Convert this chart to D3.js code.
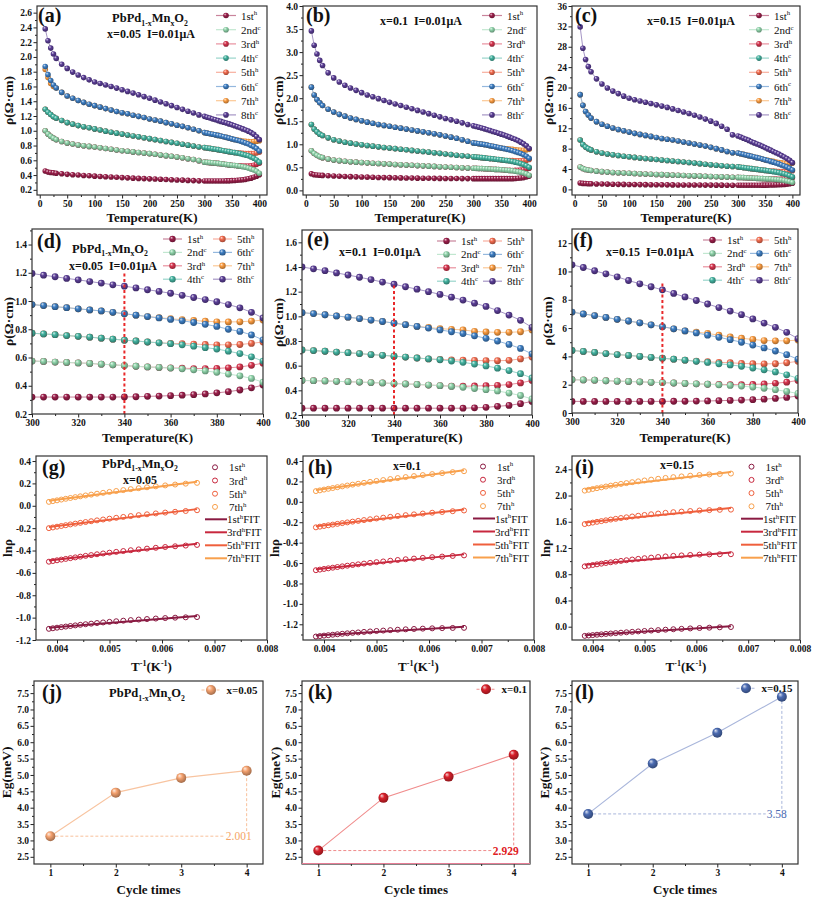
<!DOCTYPE html>
<html><head><meta charset="utf-8">
<script src="https://cdn.jsdelivr.net/npm/d3@7"></script>
<style>body{margin:0;background:#fff}svg{display:block}</style>
</head><body><svg id="c" width="813" height="899"></svg>
<script>
// ---------------- DATA ----------------
const tempLowK = [10,15,20,25,30,40,50,60,70,80,90,100,110,120,130,140,150,160,170,180,190,200,210,220,230,240,250,260,270,280,290];
const tempHighK = [300,305,310,315,320,325,330,335,340,345,350,355,360,365,370,375,380,385,390,395,400];
const seriesNames = ['1st','2nd','3rd','4th','5th','6th','7th','8th'];
const seriesSup = ['h','c','h','c','h','c','h','c'];
const tempTicks = [0,50,100,150,200,250,300,350,400];
const tempZoomTicks = [300,320,340,360,380,400];

// x = 0.05 (panels a, d)
const x005_1st_low = [0.455,0.44,0.435,0.43,0.425,0.418,0.41,0.405,0.4,0.395,0.39,0.385,0.38,0.377,0.373,0.37,0.366,0.362,0.358,0.355,0.352,0.349,0.346,0.343,0.34,0.337,0.334,0.331,0.328,0.325,0.322];
const x005_2nd_low = [1.0,0.955,0.925,0.9,0.88,0.855,0.835,0.82,0.807,0.797,0.788,0.78,0.77,0.76,0.75,0.74,0.73,0.722,0.714,0.706,0.698,0.69,0.681,0.672,0.663,0.654,0.645,0.634,0.622,0.61,0.595];
const x005_4th_low = [1.29,1.25,1.22,1.19,1.17,1.14,1.11,1.09,1.07,1.055,1.04,1.025,1.01,0.995,0.98,0.968,0.955,0.942,0.93,0.918,0.905,0.893,0.88,0.868,0.855,0.843,0.83,0.818,0.805,0.793,0.78];
const x005_6th_low = [1.87,1.76,1.68,1.62,1.58,1.52,1.47,1.44,1.41,1.385,1.36,1.34,1.32,1.30,1.28,1.26,1.245,1.23,1.21,1.195,1.18,1.16,1.145,1.13,1.11,1.095,1.075,1.06,1.04,1.02,1.0];
const x005_7th_low = [1.83,1.72,1.64,1.6,1.58,1.52,1.47,1.44,1.41,1.385,1.36,1.34,1.32,1.30,1.28,1.26,1.245,1.23,1.21,1.195,1.18,1.16,1.145,1.13,1.11,1.095,1.075,1.06,1.04,1.02,1.0];
const x005_8th_low = [2.38,2.22,2.12,2.04,1.98,1.9,1.845,1.795,1.755,1.72,1.69,1.66,1.64,1.62,1.60,1.578,1.555,1.533,1.51,1.487,1.463,1.44,1.415,1.39,1.365,1.34,1.315,1.29,1.265,1.24,1.215];
const x005_1st_high = [0.32,0.32,0.32,0.32,0.32,0.32,0.32,0.32,0.321,0.322,0.325,0.327,0.33,0.333,0.337,0.342,0.35,0.358,0.37,0.385,0.405];
const x005_2nd_high = [0.575,0.572,0.568,0.565,0.562,0.558,0.553,0.548,0.543,0.538,0.533,0.53,0.525,0.52,0.513,0.505,0.495,0.483,0.47,0.452,0.425];
const x005_3rd_high = [0.575,0.572,0.568,0.565,0.562,0.558,0.553,0.548,0.543,0.538,0.533,0.53,0.526,0.524,0.522,0.522,0.523,0.527,0.533,0.545,0.56];
const x005_4th_high = [0.772,0.767,0.762,0.755,0.75,0.744,0.737,0.73,0.723,0.717,0.71,0.704,0.698,0.69,0.68,0.67,0.66,0.645,0.628,0.605,0.575];
const x005_5th_high = [0.772,0.767,0.762,0.755,0.75,0.744,0.737,0.73,0.723,0.717,0.71,0.704,0.70,0.698,0.695,0.692,0.69,0.69,0.692,0.70,0.71];
const x005_6th_high = [0.975,0.968,0.96,0.953,0.945,0.937,0.93,0.92,0.91,0.9,0.89,0.88,0.87,0.86,0.848,0.835,0.82,0.80,0.785,0.76,0.725];
const x005_7th_high = [0.975,0.968,0.96,0.953,0.945,0.937,0.93,0.92,0.91,0.9,0.89,0.882,0.875,0.868,0.862,0.857,0.853,0.852,0.853,0.858,0.865];
const x005_8th_high = [1.195,1.183,1.172,1.16,1.15,1.138,1.127,1.115,1.105,1.093,1.08,1.068,1.055,1.04,1.025,1.01,0.995,0.975,0.952,0.92,0.88];

// x = 0.1 (panels b, e)
const x01_1st_low = [0.36,0.34,0.335,0.33,0.325,0.318,0.312,0.307,0.302,0.298,0.294,0.29,0.287,0.284,0.281,0.278,0.276,0.273,0.271,0.269,0.267,0.265,0.264,0.262,0.261,0.26,0.259,0.258,0.257,0.256,0.256];
const x01_2nd_low = [0.86,0.8,0.76,0.73,0.71,0.68,0.66,0.645,0.633,0.622,0.613,0.605,0.597,0.59,0.583,0.576,0.57,0.563,0.557,0.55,0.544,0.538,0.532,0.526,0.52,0.514,0.508,0.502,0.496,0.49,0.485];
const x01_4th_low = [1.43,1.33,1.27,1.22,1.19,1.14,1.1,1.07,1.045,1.025,1.005,0.99,0.975,0.96,0.945,0.93,0.918,0.905,0.892,0.88,0.868,0.856,0.843,0.83,0.817,0.803,0.79,0.777,0.763,0.75,0.74];
const x01_6th_low = [2.24,2.07,1.97,1.9,1.84,1.76,1.7,1.65,1.61,1.57,1.54,1.51,1.48,1.455,1.43,1.41,1.39,1.37,1.35,1.33,1.31,1.29,1.27,1.25,1.23,1.205,1.18,1.155,1.13,1.1,1.065];
const x01_8th_low = [3.46,3.15,2.96,2.82,2.71,2.55,2.44,2.35,2.28,2.22,2.17,2.12,2.07,2.03,1.99,1.95,1.91,1.875,1.84,1.805,1.77,1.735,1.70,1.665,1.63,1.595,1.56,1.53,1.5,1.465,1.43];
const x01_1st_high = [0.255,0.255,0.255,0.255,0.255,0.255,0.255,0.255,0.255,0.255,0.255,0.255,0.255,0.255,0.255,0.258,0.262,0.27,0.278,0.292,0.31];
const x01_2nd_high = [0.48,0.478,0.476,0.473,0.47,0.467,0.463,0.46,0.455,0.452,0.448,0.443,0.438,0.432,0.425,0.415,0.405,0.395,0.378,0.358,0.33];
const x01_3rd_high = [0.48,0.478,0.476,0.473,0.47,0.467,0.463,0.46,0.455,0.452,0.448,0.443,0.438,0.434,0.433,0.435,0.438,0.44,0.447,0.46,0.48];
const x01_4th_high = [0.728,0.722,0.717,0.71,0.705,0.698,0.69,0.684,0.677,0.67,0.662,0.655,0.648,0.638,0.627,0.613,0.598,0.58,0.56,0.535,0.5];
const x01_5th_high = [0.728,0.722,0.717,0.71,0.705,0.698,0.69,0.684,0.677,0.67,0.662,0.655,0.65,0.647,0.645,0.642,0.64,0.64,0.643,0.655,0.67];
const x01_6th_high = [1.03,1.022,1.013,1.003,0.993,0.982,0.97,0.958,0.945,0.932,0.918,0.905,0.89,0.875,0.86,0.842,0.822,0.8,0.772,0.74,0.695];
const x01_7th_high = [1.03,1.022,1.013,1.003,0.993,0.982,0.97,0.958,0.945,0.932,0.918,0.91,0.9,0.895,0.89,0.878,0.873,0.87,0.87,0.875,0.89];
const x01_8th_high = [1.40,1.385,1.37,1.352,1.335,1.317,1.298,1.278,1.26,1.24,1.22,1.2,1.178,1.155,1.132,1.107,1.08,1.047,1.01,0.968,0.91];

// x = 0.15 (panels c, f)
const x015_1st_low = [1.25,1.18,1.15,1.12,1.1,1.07,1.05,1.03,1.01,0.99,0.98,0.96,0.95,0.94,0.93,0.92,0.91,0.9,0.89,0.88,0.875,0.87,0.86,0.855,0.85,0.845,0.84,0.835,0.83,0.825,0.822];
const x015_2nd_low = [4.4,4.1,3.9,3.8,3.7,3.58,3.48,3.4,3.33,3.27,3.21,3.16,3.11,3.06,3.02,2.98,2.93,2.89,2.85,2.81,2.77,2.73,2.69,2.65,2.61,2.57,2.53,2.49,2.45,2.41,2.38];
const x015_4th_low = [9.7,8.8,8.3,8.0,7.75,7.4,7.15,6.95,6.8,6.65,6.5,6.4,6.28,6.17,6.07,5.97,5.87,5.77,5.67,5.57,5.47,5.37,5.27,5.17,5.05,4.95,4.85,4.75,4.65,4.55,4.48];
const x015_6th_low = [18.6,16.5,15.3,14.6,14.0,13.3,12.8,12.4,12.05,11.75,11.5,11.25,11.0,10.8,10.6,10.4,10.2,10.0,9.85,9.7,9.5,9.3,9.1,8.9,8.7,8.5,8.25,8.0,7.75,7.45,7.2];
const x015_8th_low = [31.9,27.7,25.5,24.1,23.1,21.7,20.7,19.9,19.3,18.8,18.3,17.9,17.6,17.35,17.1,16.85,16.6,16.35,16.1,15.8,15.5,15.2,14.9,14.55,14.2,13.8,13.4,12.95,12.4,11.8,10.7];
const x015_1st_high = [0.82,0.82,0.82,0.82,0.82,0.82,0.82,0.82,0.82,0.83,0.83,0.84,0.85,0.87,0.89,0.91,0.94,0.98,1.03,1.1,1.2];
const x015_2nd_high = [2.35,2.34,2.32,2.28,2.25,2.23,2.2,2.17,2.15,2.12,2.09,2.06,2.03,1.99,1.95,1.9,1.83,1.75,1.65,1.52,1.38];
const x015_3rd_high = [2.35,2.34,2.32,2.28,2.25,2.23,2.2,2.17,2.15,2.12,2.09,2.06,2.03,2.02,2.01,2.0,2.02,2.05,2.1,2.18,2.3];
const x015_4th_high = [4.42,4.35,4.28,4.2,4.13,4.07,4.0,3.93,3.87,3.8,3.73,3.65,3.57,3.48,3.4,3.3,3.18,3.05,2.9,2.7,2.45];
const x015_5th_high = [4.42,4.35,4.28,4.2,4.13,4.07,4.0,3.93,3.87,3.8,3.73,3.67,3.62,3.58,3.55,3.5,3.48,3.47,3.48,3.55,3.65];
const x015_6th_high = [7.13,7.0,6.88,6.75,6.62,6.5,6.37,6.23,6.1,5.95,5.8,5.66,5.5,5.35,5.18,5.0,4.8,4.6,4.38,4.12,3.8];
const x015_7th_high = [7.13,7.0,6.88,6.75,6.62,6.5,6.37,6.23,6.1,5.95,5.8,5.72,5.62,5.5,5.38,5.28,5.2,5.12,5.1,5.1,5.15];
const x015_8th_high = [10.47,10.28,10.05,9.83,9.62,9.36,9.13,8.92,8.7,8.45,8.2,7.95,7.7,7.45,7.2,6.95,6.65,6.35,6.05,5.7,5.25];

// red marker line at 340 K: [T, bottom, top]
const markD = [340, 0.2, 1.2];
const markE = [340, 0.2, 1.27];
const markF = [340, 0, 9.25];

// ln(rho) vs 1/T (heating cycles 1st,3rd,5th,7th)
const invTemp = [0.003846,0.003922,0.004,0.004082,0.004167,0.004255,0.004348,0.004444,0.004545,0.004651,0.004762,0.004878,0.005,0.005128,0.005263,0.005405,0.005556,0.005714,0.005882,0.006061,0.00625,0.006452,0.006667];
const fitInvT = [0.003846, 0.006667];
const invTicks = [0.004,0.005,0.006,0.007,0.008];
const lnNames = ['1st','3rd','5th','7th'];
const g_ln1 = [-1.1,-1.0952,-1.09,-1.085,-1.08,-1.0748,-1.0695,-1.0643,-1.059,-1.0539,-1.0483,-1.043,-1.0377,-1.0325,-1.0273,-1.0221,-1.0172,-1.0127,-1.0082,-1.004,-1.0005,-0.9974,-0.995];
const g_ln3 = [-0.5,-0.4939,-0.4875,-0.4812,-0.4749,-0.4682,-0.4615,-0.4548,-0.4478,-0.441,-0.4336,-0.4265,-0.4192,-0.4121,-0.4047,-0.3972,-0.3899,-0.3829,-0.3757,-0.3686,-0.3622,-0.3558,-0.35];
const g_ln5 = [-0.2,-0.1937,-0.187,-0.1804,-0.1738,-0.1668,-0.1597,-0.1527,-0.1453,-0.1382,-0.1304,-0.1228,-0.1152,-0.1076,-0.0997,-0.0917,-0.0838,-0.0763,-0.0685,-0.0608,-0.0537,-0.0466,-0.04];
const g_ln7 = [0.035,0.0416,0.0486,0.0555,0.0624,0.0697,0.0771,0.0844,0.0922,0.0997,0.1079,0.1158,0.1239,0.132,0.1403,0.1488,0.1572,0.1653,0.1737,0.1821,0.1898,0.1977,0.205];
const g_fit = [[-1.09,-0.985],[-0.49,-0.34],[-0.19,-0.03],[0.045,0.215]];
const h_ln1 = [-1.32,-1.3157,-1.3111,-1.3067,-1.3023,-1.2977,-1.2931,-1.2886,-1.2839,-1.2796,-1.2748,-1.2703,-1.2658,-1.2616,-1.2573,-1.2532,-1.2493,-1.2459,-1.2426,-1.2397,-1.2376,-1.2359,-1.235];
const h_ln3 = [-0.67,-0.6641,-0.6578,-0.6516,-0.6455,-0.639,-0.6324,-0.6259,-0.619,-0.6125,-0.6053,-0.5983,-0.5913,-0.5844,-0.5772,-0.57,-0.5629,-0.5562,-0.5493,-0.5426,-0.5365,-0.5304,-0.525];
const h_ln5 = [-0.25,-0.2435,-0.2367,-0.2299,-0.2232,-0.2161,-0.2088,-0.2016,-0.1941,-0.1868,-0.1788,-0.171,-0.1631,-0.1553,-0.1472,-0.139,-0.1308,-0.123,-0.1149,-0.1069,-0.0994,-0.0919,-0.085];
const h_ln7 = [0.105,0.1123,0.1199,0.1276,0.1352,0.1433,0.1515,0.1597,0.1684,0.1768,0.186,0.195,0.2042,0.2133,0.2229,0.2326,0.2424,0.2519,0.2618,0.2717,0.2811,0.2908,0.30];
const h_fit = [[-1.31,-1.225],[-0.66,-0.515],[-0.24,-0.075],[0.115,0.31]];
const i_ln1 = [-0.14,-0.1344,-0.1284,-0.1225,-0.1166,-0.1104,-0.1042,-0.098,-0.0915,-0.0853,-0.0785,-0.072,-0.0654,-0.0589,-0.0522,-0.0455,-0.039,-0.0328,-0.0265,-0.0204,-0.015,-0.0097,-0.005];
const i_ln3 = [0.92,0.93,0.9407,0.951,0.9611,0.9718,0.9824,0.9927,1.0034,1.0132,1.0241,1.0342,1.0442,1.0535,1.0629,1.0718,1.0801,1.087,1.0936,1.0992,1.1026,1.1049,1.105];
const i_ln5 = [1.565,1.5759,1.5876,1.599,1.6101,1.6219,1.6337,1.6451,1.6571,1.6682,1.6805,1.692,1.7035,1.7144,1.7254,1.7362,1.7463,1.7551,1.7638,1.7717,1.7774,1.7823,1.785];
const i_ln7 = [2.075,2.087,2.0998,2.1123,2.1246,2.1377,2.1508,2.1636,2.177,2.1896,2.2035,2.2167,2.2298,2.2425,2.2555,2.2683,2.2806,2.2916,2.3027,2.3131,2.3215,2.3292,2.335];
const i_fit = [[-0.13,0.005],[0.945,1.13],[1.59,1.81],[2.1,2.36]];

// Eg vs cycle times
const cycles = [1,2,3,4];
const eg005 = [3.13,4.46,4.91,5.131];
const eg01 = [2.69,4.30,4.95,5.619];
const eg015 = [3.81,5.35,6.29,7.39];
const egDiffLabels = ['2.001','2.929','3.58'];
const egTicks = [2.5,3.0,3.5,4.0,4.5,5.0,5.5,6.0,6.5,7.0,7.5];

// ---------------- STYLE ----------------
const FONT = '"Liberation Serif","Times New Roman",serif';
const NB = '\u00a0\u00a0';
const seriesColors = ['#9c1f4b','#8fd4aa','#d7354f','#43b3a0','#f36c4f','#3d7ec3','#fa9b3f','#5b3e96'];
const lnColors = ['#8a1a42','#c8283e','#ef5f3c','#f8a04c'];

const svg = d3.select('#c');
const defs = svg.append('defs');
function sphere(id, color) {
  const g = defs.append('radialGradient').attr('id', id)
    .attr('cx','45%').attr('cy','42%').attr('r','60%').attr('fx','32%').attr('fy','28%');
  g.append('stop').attr('offset','0%').attr('stop-color', d3.interpolateRgb(color,'#fff')(0.8));
  g.append('stop').attr('offset','40%').attr('stop-color', color);
  g.append('stop').attr('offset','100%').attr('stop-color', d3.interpolateRgb(color,'#000')(0.35));
}
seriesColors.forEach((c,i)=>sphere('sph'+i,c));
sphere('sphJ','#f5a26f'); sphere('sphK','#d8202a'); sphere('sphL','#4b6bb2');
const light = c => d3.interpolateRgb(c,'#fff')(0.45);

function rich(parent, x, y, parts, size, o={}) {
  const t = parent.append('text').attr('x',x).attr('y',y).attr('font-family',FONT)
    .attr('font-size',size).attr('font-weight',o.bold?'bold':'normal')
    .attr('fill',o.fill||'#111').attr('text-anchor',o.anchor||'start');
  if (o.rotate) t.attr('transform',`rotate(-90,${x},${y})`);
  let shift = 0;
  parts.forEach(p => {
    const [s,k] = Array.isArray(p)?p:[p,'n'];
    const target = k==='sub'? size*0.3 : k==='sup'? -size*0.38 : 0;
    t.append('tspan').attr('dy', target-shift).attr('font-size', k==='n'?size:size*0.62).text(s);
    shift = target;
  });
  return t;
}
const TITLE = ['PbPd',['1-x','sub'],'Mn',['x','sub'],'O',['2','sub']];

let clipN = 0;
function axesPanel(fr, xDom, yDom, xT, xM, yT, yM, xF, yF) {
  const x = d3.scaleLinear().domain(xDom).range([fr.L, fr.R]);
  const y = d3.scaleLinear().domain(yDom).range([fr.B, fr.T]);
  const ax = svg.append('g');
  const add = (axis, tr) => ax.append('g').attr('transform', tr).call(axis);
  add(d3.axisBottom(x).tickValues(xM).tickSize(2).tickSizeOuter(0).tickFormat(''), `translate(0,${fr.B})`);
  add(d3.axisBottom(x).tickValues(xT).tickSize(3.5).tickSizeOuter(0).tickPadding(1.5).tickFormat(xF), `translate(0,${fr.B})`);
  add(d3.axisLeft(y).tickValues(yM).tickSize(2).tickSizeOuter(0).tickFormat(''), `translate(${fr.L},0)`);
  add(d3.axisLeft(y).tickValues(yT).tickSize(3.5).tickSizeOuter(0).tickPadding(1.5).tickFormat(yF), `translate(${fr.L},0)`);
  ax.selectAll('.domain').remove();
  ax.selectAll('.tick line').attr('stroke','#222').attr('stroke-width',1);
  ax.selectAll('.tick text').attr('font-family',FONT).attr('font-size',9.5).attr('font-weight','bold').attr('fill','#111');
  const id = 'clip'+(clipN++);
  defs.append('clipPath').attr('id',id).append('rect')
    .attr('x',fr.L).attr('y',fr.T).attr('width',fr.R-fr.L).attr('height',fr.B-fr.T);
  const plot = svg.append('g').attr('clip-path',`url(#${id})`);
  return {x, y, plot, fr};
}
function frame(fr, bottomColor) {
  svg.append('rect').attr('x',fr.L).attr('y',fr.T).attr('width',fr.R-fr.L).attr('height',fr.B-fr.T)
    .attr('fill','none').attr('stroke','#333').attr('stroke-width',1.2);
  if (bottomColor) svg.append('line').attr('x1',fr.L).attr('x2',fr.R).attr('y1',fr.B-0.5).attr('y2',fr.B-0.5)
    .attr('stroke',bottomColor).attr('stroke-width',1.2);
}
function panelLabel(x, y, s) {
  svg.append('text').attr('x',x).attr('y',y).attr('font-family',FONT).attr('font-size',20)
    .attr('font-weight','bold').attr('fill','#111').text(s);
}
const f1 = v => v.toFixed(1), f0 = v => String(Math.round(v)), f3 = v => v.toFixed(3);

const FR = {
  a:{L:37,R:267,T:6,B:195}, b:{L:303,R:537,T:6,B:195}, c:{L:572,R:800,T:6,B:195},
  d:{L:32,R:263,T:229,B:414}, e:{L:302,R:532,T:230,B:415}, f:{L:572,R:798,T:229,B:413},
  g:{L:36,R:267,T:456,B:640}, h:{L:303,R:534,T:456,B:640}, i:{L:572,R:800,T:456,B:640},
  j:{L:34,R:263,T:681,B:864}, k:{L:302,R:530,T:681,B:864}, l:{L:572,R:798,T:681,B:864}
};

function drawSeries(p, T, vals, r) {
  const order = [0,2,4,6,1,3,5,7];
  order.forEach(i => {
    const pts = T.map((t,k)=>[t, vals[i][k]]);
    p.plot.append('path').attr('d', d3.line().x(d=>p.x(d[0])).y(d=>p.y(d[1]))(pts))
      .attr('fill','none').attr('stroke', light(seriesColors[i])).attr('stroke-width',1);
    p.plot.append('g').selectAll('circle').data(pts).join('circle')
      .attr('cx',d=>p.x(d[0])).attr('cy',d=>p.y(d[1])).attr('r',r).attr('fill',`url(#sph${i})`);
  });
}
function legendItem(xl, y, i, r, len) {
  svg.append('line').attr('x1',xl).attr('x2',xl+len).attr('y1',y).attr('y2',y)
    .attr('stroke', light(seriesColors[i])).attr('stroke-width',1.2);
  svg.append('circle').attr('cx',xl+len/2).attr('cy',y).attr('r',r).attr('fill',`url(#sph${i})`);
  rich(svg, xl+len+5, y+4, [seriesNames[i],[seriesSup[i],'sup']], 11);
}

// ---------------- ROW 1 (a,b,c) ----------------
const Tfull = tempLowK.concat(tempHighK);
const tempMinor = [25,75,125,175,225,275,325,375];
const row1 = [
  {k:'a', lab:'(a)', lx:38, yDom:[0.13,2.69], yT:[0.2,0.4,0.6,0.8,1.0,1.2,1.4,1.6,1.8,2.0,2.2,2.4,2.6], yM:[0.3,0.5,0.7,0.9,1.1,1.3,1.5,1.7,1.9,2.1,2.3,2.5], yF:f1,
   low:[x005_1st_low,x005_2nd_low,x005_2nd_low,x005_4th_low,x005_4th_low,x005_6th_low,x005_7th_low,x005_8th_low],
   high:[x005_1st_high,x005_2nd_high,x005_3rd_high,x005_4th_high,x005_5th_high,x005_6th_high,x005_7th_high,x005_8th_high], legX:216, ytx:9},
  {k:'b', lab:'(b)', lx:306, yDom:[-0.1,4.0], yT:[0,0.5,1.0,1.5,2.0,2.5,3.0,3.5,4.0], yM:[0.25,0.75,1.25,1.75,2.25,2.75,3.25,3.75], yF:f1,
   low:[x01_1st_low,x01_2nd_low,x01_2nd_low,x01_4th_low,x01_4th_low,x01_6th_low,x01_6th_low,x01_8th_low],
   high:[x01_1st_high,x01_2nd_high,x01_3rd_high,x01_4th_high,x01_5th_high,x01_6th_high,x01_7th_high,x01_8th_high], legX:482, ytx:279},
  {k:'c', lab:'(c)', lx:575, yDom:[-1.1,36], yT:[0,4,8,12,16,20,24,28,32,36], yM:[2,6,10,14,18,22,26,30,34], yF:f0,
   low:[x015_1st_low,x015_2nd_low,x015_2nd_low,x015_4th_low,x015_4th_low,x015_6th_low,x015_6th_low,x015_8th_low],
   high:[x015_1st_high,x015_2nd_high,x015_3rd_high,x015_4th_high,x015_5th_high,x015_6th_high,x015_7th_high,x015_8th_high], legX:749, ytx:549}
];
row1.forEach(o => {
  const fr = FR[o.k];
  const p = axesPanel(fr, [-5,414], o.yDom, tempTicks, tempMinor, o.yT, o.yM, f0, o.yF);
  const vals = o.low.map((l,i)=>l.concat(o.high[i]));
  drawSeries(p, Tfull, vals, 2.8);
  frame(fr);
  panelLabel(o.lx, 22, o.lab);
  seriesNames.forEach((n,i)=>legendItem(o.legX, 15.5+i*14.2, i, 2.8, 20));
  rich(svg, (fr.L+fr.R)/2, 221.5, ['Temperature(K)'], 13, {bold:true, anchor:'middle'});
  rich(svg, o.ytx+4, (fr.T+fr.B)/2, ['ρ(Ω·cm)'], 13.5, {bold:true, anchor:'middle', rotate:true});
});
rich(svg, 150, 22, TITLE, 12.5, {bold:true, anchor:'middle'});
rich(svg, 151, 37.5, ['x=0.05'+NB+'I=0.01μA'], 12, {bold:true, anchor:'middle'});
rich(svg, 421, 25, ['x=0.1'+NB+'I=0.01μA'], 12, {bold:true, anchor:'middle'});
rich(svg, 691, 25, ['x=0.15'+NB+'I=0.01μA'], 12, {bold:true, anchor:'middle'});

// ---------------- ROW 2 (d,e,f) ----------------
const row2 = [
  {k:'d', lab:'(d)', lx:37, ly:247.5, yDom:[0.2,1.51], yT:[0.2,0.4,0.6,0.8,1.0,1.2,1.4], yM:[0.3,0.5,0.7,0.9,1.1,1.3,1.5], yF:f1,
   high:[x005_1st_high,x005_2nd_high,x005_3rd_high,x005_4th_high,x005_5th_high,x005_6th_high,x005_7th_high,x005_8th_high],
   mark:markD, c1:163, c2:213, ly0:239, ytx:9},
  {k:'e', lab:'(e)', lx:307, ly:246, yDom:[0.2,1.7], yT:[0.2,0.4,0.6,0.8,1.0,1.2,1.4,1.6], yM:[0.3,0.5,0.7,0.9,1.1,1.3,1.5], yF:f1,
   high:[x01_1st_high,x01_2nd_high,x01_3rd_high,x01_4th_high,x01_5th_high,x01_6th_high,x01_7th_high,x01_8th_high],
   mark:markE, c1:437, c2:483, ly0:241, ytx:279},
  {k:'f', lab:'(f)', lx:573, ly:247, yDom:[0,13], yT:[0,2,4,6,8,10,12], yM:[1,3,5,7,9,11], yF:f0,
   high:[x015_1st_high,x015_2nd_high,x015_3rd_high,x015_4th_high,x015_5th_high,x015_6th_high,x015_7th_high,x015_8th_high],
   mark:markF, c1:703, c2:750, ly0:240, ytx:548}
];
row2.forEach(o => {
  const fr = FR[o.k];
  const p = axesPanel(fr, [300,400], o.yDom, tempZoomTicks, [310,330,350,370,390], o.yT, o.yM, f0, o.yF);
  drawSeries(p, tempHighK, o.high, 3.4);
  p.plot.append('line').attr('x1',p.x(o.mark[0])).attr('x2',p.x(o.mark[0]))
    .attr('y1',p.y(o.mark[1])).attr('y2',p.y(o.mark[2]))
    .attr('stroke','#e8282a').attr('stroke-width',2).attr('stroke-dasharray','3,2.5');
  frame(fr);
  panelLabel(o.lx, o.ly, o.lab);
  seriesNames.forEach((n,i)=>{
    const col = i<4 ? o.c1 : o.c2;
    legendItem(col, o.ly0 + (i%4)*13.4, i, 3.2, 19);
  });
  rich(svg, (fr.L+fr.R)/2, 442, ['Temperature(K)'], 13, {bold:true, anchor:'middle'});
  rich(svg, o.ytx+4, (fr.T+fr.B)/2, ['ρ(Ω·cm)'], 13.5, {bold:true, anchor:'middle', rotate:true});
});
rich(svg, 110, 252.5, TITLE, 12.5, {bold:true, anchor:'middle'});
rich(svg, 113, 270, ['x=0.05'+NB+'I=0.01μA'], 12, {bold:true, anchor:'middle'});
rich(svg, 380, 256, ['x=0.1'+NB+'I=0.01μA'], 12, {bold:true, anchor:'middle'});
rich(svg, 650, 256, ['x=0.15'+NB+'I=0.01μA'], 12, {bold:true, anchor:'middle'});

// ---------------- ROW 3 (g,h,i) ----------------
const row3 = [
  {k:'g', lab:'(g)', lx:42, yDom:[-1.2,0.445], yT:[-1.2,-1.0,-0.8,-0.6,-0.4,-0.2,0,0.2,0.4], yM:[-1.1,-0.9,-0.7,-0.5,-0.3,-0.1,0.1,0.3],
   pts:[g_ln1,g_ln3,g_ln5,g_ln7], fit:g_fit, mx:215, fx:205, ly0:467.3, ytx:7.5},
  {k:'h', lab:'(h)', lx:308, yDom:[-1.354,0.449], yT:[-1.2,-1.0,-0.8,-0.6,-0.4,-0.2,0,0.2,0.4], yM:[-1.3,-1.1,-0.9,-0.7,-0.5,-0.3,-0.1,0.1,0.3],
   pts:[h_ln1,h_ln3,h_ln5,h_ln7], fit:h_fit, mx:483, fx:473, ly0:466.5, ytx:275},
  {k:'i', lab:'(i)', lx:575, yDom:[-0.203,2.603], yT:[0,0.4,0.8,1.2,1.6,2.0,2.4], yM:[0.2,0.6,1.0,1.4,1.8,2.2],
   pts:[i_ln1,i_ln3,i_ln5,i_ln7], fit:i_fit, mx:751.5, fx:741, ly0:466.7, ytx:546}
];
row3.forEach(o => {
  const fr = FR[o.k];
  const p = axesPanel(fr, [0.0036,0.008], o.yDom, invTicks, [0.0045,0.0055,0.0065,0.0075], o.yT, o.yM, f3, f1);
  o.pts.forEach((arr,s)=>{
    p.plot.append('g').selectAll('circle').data(invTemp.map((t,k)=>[t,arr[k]])).join('circle')
      .attr('cx',d=>p.x(d[0])).attr('cy',d=>p.y(d[1])).attr('r',2.5)
      .attr('fill','none').attr('stroke',lnColors[s]).attr('stroke-width',1);
  });
  o.fit.forEach((fv,s)=>{
    p.plot.append('line').attr('x1',p.x(fitInvT[0])).attr('x2',p.x(fitInvT[1]))
      .attr('y1',p.y(fv[0])).attr('y2',p.y(fv[1]))
      .attr('stroke',lnColors[s]).attr('stroke-width',2);
  });
  frame(fr);
  panelLabel(o.lx, 474, o.lab);
  lnNames.forEach((n,s)=>{
    const y = o.ly0 + s*13.2;
    svg.append('circle').attr('cx',o.mx).attr('cy',y).attr('r',2.5).attr('fill','none')
      .attr('stroke',lnColors[s]).attr('stroke-width',1);
    rich(svg, o.mx+14, y+4, [n,['h','sup']], 11);
  });
  lnNames.forEach((n,s)=>{
    const y = o.ly0 + (s+4)*13.0;
    svg.append('line').attr('x1',o.fx).attr('x2',o.fx+22).attr('y1',y).attr('y2',y)
      .attr('stroke',lnColors[s]).attr('stroke-width',2);
    rich(svg, o.fx+22, y+4, [n,['h','sup'],'FIT'], 11);
  });
  rich(svg, (fr.L+fr.R)/2, 671, ['T',['-1','sup'],'(K',['-1','sup'],')'], 13, {bold:true, anchor:'middle'});
  rich(svg, o.ytx+4, (fr.T+fr.B)/2, ['lnρ'], 13, {bold:true, anchor:'middle', rotate:true});
});
rich(svg, 140, 467.5, TITLE, 12.5, {bold:true, anchor:'middle'});
rich(svg, 140, 484, ['x=0.05'], 12, {bold:true, anchor:'middle'});
rich(svg, 407, 470, ['x=0.1'], 12, {bold:true, anchor:'middle'});
rich(svg, 677, 469, ['x=0.15'], 12, {bold:true, anchor:'middle'});

// ---------------- ROW 4 (j,k,l) ----------------
const row4 = [
  {k:'j', lab:'(j)', lx:42, vals:eg005, sph:'sphJ', line:'#f8c4a0', dash:'#f8c09a', txt:'#f5a566', name:'x=0.05', lg:[201.5,690], dl:egDiffLabels[0], bold:false, ytx:7},
  {k:'k', lab:'(k)', lx:308, vals:eg01, sph:'sphK', line:'#f08c8c', dash:'#ef8a8a', txt:'#e0201f', name:'x=0.1', lg:[476.5,689.3], dl:egDiffLabels[1], bold:true, ytx:276, bc:'#e77d95'},
  {k:'l', lab:'(l)', lx:575, vals:eg015, sph:'sphL', line:'#a9b6db', dash:'#a9b6db', txt:'#4b6bb2', name:'x=0.15', lg:[736.5,688.3], dl:egDiffLabels[2], bold:false, ytx:545}
];
row4.forEach(o => {
  const fr = FR[o.k];
  const p = axesPanel(fr, [0.75,4.25], [2.28,7.87], cycles, [1.5,2.5,3.5], egTicks,
    [2.75,3.25,3.75,4.25,4.75,5.25,5.75,6.25,6.75,7.25,7.75], f0, f1);
  const v = o.vals;
  p.plot.append('line').attr('x1',p.x(cycles[0])).attr('x2',p.x(cycles[3])).attr('y1',p.y(v[0])).attr('y2',p.y(v[0]))
    .attr('stroke',o.dash).attr('stroke-width',1).attr('stroke-dasharray','3,2');
  p.plot.append('line').attr('x1',p.x(cycles[3])).attr('x2',p.x(cycles[3])).attr('y1',p.y(v[0])).attr('y2',p.y(v[3]))
    .attr('stroke',o.dash).attr('stroke-width',1).attr('stroke-dasharray','3,2');
  p.plot.append('path').attr('d', d3.line().x((d,i)=>p.x(cycles[i])).y(d=>p.y(d))(v))
    .attr('fill','none').attr('stroke',o.line).attr('stroke-width',1.1);
  const tx = p.x(cycles[3]) + 5, ty = p.y(v[0]) + 4;
  const t = rich(p.plot, tx, ty, [o.dl], 11.5, {bold:o.bold, anchor:'end', fill:o.txt});
  const bb = t.node().getBBox();
  p.plot.insert('rect', 'text').attr('x',bb.x-1).attr('y',bb.y+1).attr('width',bb.width+2).attr('height',bb.height-2).attr('fill','#fff');
  p.plot.append('g').selectAll('circle').data(v).join('circle')
    .attr('cx',(d,i)=>p.x(cycles[i])).attr('cy',d=>p.y(d)).attr('r',5).attr('fill',`url(#${o.sph})`);
  frame(fr, o.bc);
  panelLabel(o.lx, 699, o.lab);
  svg.append('line').attr('x1',o.lg[0]).attr('x2',o.lg[0]+19).attr('y1',o.lg[1]).attr('y2',o.lg[1])
    .attr('stroke',o.line).attr('stroke-width',1.1).attr('stroke-dasharray','3,2');
  svg.append('circle').attr('cx',o.lg[0]+9.5).attr('cy',o.lg[1]).attr('r',5).attr('fill',`url(#${o.sph})`);
  rich(svg, o.lg[0]+25, o.lg[1]+4, [o.name], 11, {bold:true});
  rich(svg, (fr.L+fr.R)/2, 894, ['Cycle times'], 13, {bold:true, anchor:'middle'});
  rich(svg, o.ytx+4, (fr.T+fr.B)/2, ['Eg(meV)'], 13.5, {bold:true, anchor:'middle', rotate:true});
});
rich(svg, 147, 697, TITLE, 12.5, {bold:true, anchor:'middle'});
</script></body></html>
